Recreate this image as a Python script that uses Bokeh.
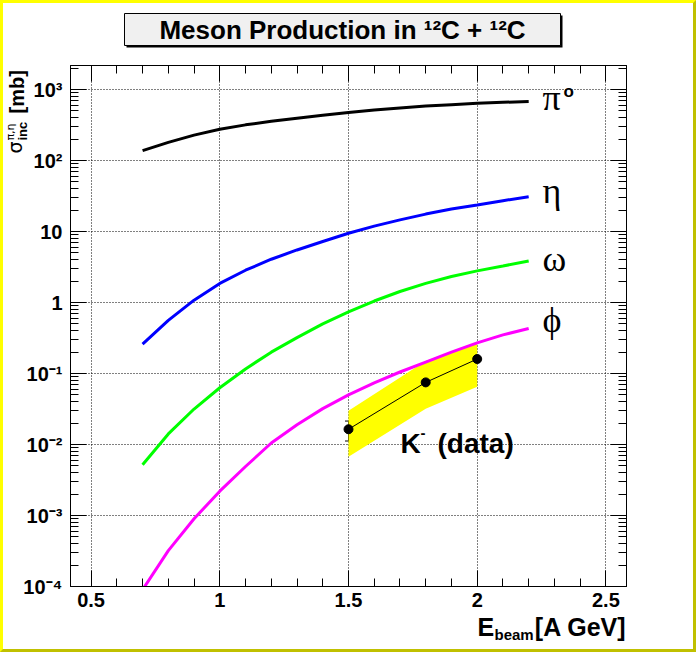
from math import log10, pi
from bokeh.plotting import figure
from bokeh.models import (Range1d, FixedTicker, LinearAxis, LogAxis, Label,
                          ColumnDataSource, Whisker, TeeHead, CustomLabelingPolicy)
from bokeh.embed import file_html
from bokeh.resources import INLINE

# ---------------- data ----------------
energy = [0.7, 0.8, 0.9, 1.0, 1.1, 1.2, 1.3, 1.4, 1.5, 1.6, 1.7, 1.8, 1.9, 2.0, 2.1, 2.2]
sigma_pi0 = [138, 180, 228, 275, 318, 357, 395, 435, 475, 515, 550, 585, 612, 640, 660, 678]
sigma_eta = [0.26, 0.56, 1.08, 1.86, 2.85, 4.07, 5.5, 7.24, 9.44, 11.9, 14.6, 17.6, 20.7, 23.7, 27.2, 30.9]
sigma_omega = [0.0052, 0.0141, 0.0316, 0.063, 0.116, 0.20, 0.32, 0.50, 0.74, 1.05, 1.43, 1.86, 2.32, 2.79, 3.27, 3.85]
sigma_phi = [9e-5, 3.2e-4, 9e-4, 2.2e-3, 4.9e-3, 0.0105, 0.019, 0.032, 0.050, 0.074, 0.105, 0.145, 0.20, 0.27, 0.35, 0.43]

k_energy = [1.5, 1.8, 2.0]
k_sigma = [0.0164, 0.075, 0.16]
k_err_low = [0.0112, 0.071, 0.152]
k_err_high = [0.0214, 0.079, 0.168]
k_band_low = [0.0067, 0.032, 0.065]
k_band_high = [0.030, 0.150, 0.275]

x_major = [0.5, 1.0, 1.5, 2.0, 2.5]
x_tick_labels = ["0.5", "1", "1.5", "2", "2.5"]
y_major = [1e-4, 1e-3, 1e-2, 1e-1, 1, 10, 100, 1000]
y_tick_labels = ["10\u207b\u2074", "10\u207b\u00b3", "10\u207b\u00b2", "10\u207b\u00b9",
                 "1", "10", "10\u00b2", "10\u00b3"]

title_text = "Meson Production in \u00b9\u00b2C + \u00b9\u00b2C"

# ---------------- geometry (outer pixels, incl. 3px border) ----------------
X0, X1 = 0.42, 2.58
Y0, Y1 = 1e-4, 2180.0
B = 3
CW, CH = 690, 646              # canvas size inside the border
FW, FH = 556, 521
FRAME_L, FRAME_T = 70, 65      # frame position in outer pixels
ML = FRAME_L - B
MT = FRAME_T - B
MR = CW - ML - FW
MB = CH - MT - FH
MID = {"Liberation Sans": 0.347, "Liberation Serif": 0.338, "DejaVu Sans": 0.346}


def xd(px):
    return X0 + (px - FRAME_L) / FW * (X1 - X0)


def yd(py):
    l0, l1 = log10(Y0), log10(Y1)
    return 10 ** (l0 + (FRAME_T + FH - py) / FH * (l1 - l0))


# ---------------- main plot ----------------
p = figure(frame_width=FW, frame_height=FH,
           min_border_left=ML, min_border_right=MR,
           min_border_top=MT, min_border_bottom=MB,
           x_range=Range1d(X0, X1), y_range=Range1d(Y0, Y1),
           y_axis_type="log", output_backend="svg", toolbar_location=None)
p.background_fill_color = "white"
p.border_fill_color = "white"
p.outline_line_color = "black"
p.outline_line_width = 1
p.styles = {"border-style": "solid", "border-width": f"{B}px",
            "border-color": "#ffff00 #c0c000 #c0c000 #ffff00"}

x_minor = [round(0.4 + 0.1 * i, 1) for i in range(23)]
y_minor = [m * 10.0 ** e for e in range(-4, 4) for m in range(2, 10)]
xt = FixedTicker(ticks=x_major, minor_ticks=x_minor)
yt = FixedTicker(ticks=y_major, minor_ticks=y_minor)

no_labels = CustomLabelingPolicy(
    code="try { return new indices.constructor(indices.size, 0) } catch (e) { return indices }")


def style_axis(ax, labels=True):
    ax.major_tick_in = 16
    ax.major_tick_out = 0
    ax.minor_tick_in = 8
    ax.minor_tick_out = 0
    ax.major_tick_line_color = "black"
    ax.minor_tick_line_color = "black"
    ax.axis_line_color = "black"
    ax.major_label_text_font = "Liberation Sans"
    ax.major_label_text_font_style = "bold"
    ax.major_label_text_color = "black"
    ax.major_label_text_font_size = "20px"
    if not labels:
        ax.major_label_policy = no_labels
        ax.major_label_text_font_size = "2px"
        ax.major_label_standoff = 0


p.xaxis.ticker = xt
p.yaxis.ticker = yt
p.yaxis.major_label_overrides = dict(zip(y_major, y_tick_labels))
p.xaxis.major_label_overrides = dict(zip(x_major, x_tick_labels))
style_axis(p.xaxis[0])
style_axis(p.yaxis[0])
p.xaxis.major_label_standoff = 6
p.yaxis.major_label_standoff = 8

top = LinearAxis(ticker=xt)
style_axis(top, labels=False)
p.add_layout(top, "above")
right = LogAxis(ticker=yt)
style_axis(right, labels=False)
p.add_layout(right, "right")

for g, t in ((p.xgrid, xt), (p.ygrid, yt)):
    g.ticker = t
    g.grid_line_color = "black"
    g.grid_line_dash = "1 2"
    g.grid_line_width = 1

p.varea(x=k_energy, y1=k_band_low, y2=k_band_high, fill_color="#ffff00")

p.line(energy, sigma_pi0, line_color="black", line_width=3)
p.line(energy, sigma_eta, line_color="#0000ff", line_width=3)
p.line(energy, sigma_omega, line_color="#00ff00", line_width=3)
p.line(energy, sigma_phi, line_color="#ff00ff", line_width=3)

ksrc = ColumnDataSource(dict(x=k_energy, y=k_sigma, lo=k_err_low, hi=k_err_high))
p.line("x", "y", source=ksrc, line_color="black", line_width=1)
p.add_layout(Whisker(source=ksrc, base="x", upper="hi", lower="lo", line_color="black",
                     upper_head=TeeHead(size=7, line_color="black"),
                     lower_head=TeeHead(size=7, line_color="black")))
p.scatter("x", "y", source=ksrc, size=9, color="black")


def lab(fig, px, py, text, size, font="Liberation Sans", style="bold", align="left",
        rotated=False, data=False, **kw):
    """Place a text whose alphabetic baseline passes through (px, py) in outer pixels.
    The anchor is moved to the text middle, which renders reliably."""
    shift = MID[font] * size
    if rotated:
        px, angle = px - shift, pi / 2
    else:
        py, angle = py - shift, 0.0
    x, y = (xd(px), yd(py)) if data else (px, py)
    fig.add_layout(Label(x=x, y=y, text=text, text_font=font, text_font_style=style,
                         text_font_size=f"{size}px", text_align=align,
                         text_baseline="middle", text_color="black", angle=angle, **kw))


serif = dict(font="Liberation Serif", style="normal", data=True)
lab(p, 542, 110, "\u03c0", 36, **serif)
lab(p, 563, 97, "o", 17, data=True)
lab(p, 542, 203, "\u03b7", 36, **serif)
lab(p, 542, 271, "\u03c9", 36, **serif)
lab(p, 542, 332, "\u03d5", 36, **serif)

lab(p, 400, 453, "K", 28, data=True)
lab(p, 420, 438, "-", 15, data=True)
lab(p, 437, 453, "(data)", 28, data=True)

# ---------------- transparent overlay for texts outside the frame ----------------
# its data coordinates are the outer pixel coordinates of the picture
ov = figure(width=CW, height=CH, x_range=Range1d(B, B + CW), y_range=Range1d(B + CH, B),
            x_axis_location=None, y_axis_location=None, min_border=0,
            output_backend="svg", toolbar_location=None)
ov.outline_line_color = None
ov.background_fill_color = None
ov.border_fill_color = None
ov.grid.visible = False
ov.styles = {"border-style": "solid", "border-width": f"{B}px",
             "border-color": "transparent", "position": "absolute",
             "top": "0px", "left": "0px"}

# title box with shadow
TB_L, TB_R, TB_T, TB_B = 124, 560, 13, 45
ov.quad(left=TB_L + 2, right=TB_R + 2, top=TB_T + 2, bottom=TB_B + 2,
        fill_color="#000000", line_color=None)
ov.quad(left=TB_L, right=TB_R, top=TB_T, bottom=TB_B,
        fill_color="#f0f0f0", line_color="black", line_width=1)
lab(ov, (TB_L + TB_R) / 2, 39, title_text, 26, align="center")

# y-axis title (rotated, reading upwards)
lab(ov, 21, 153, "\u03c3", 19, font="DejaVu Sans", style="normal", rotated=True)
lab(ov, 27, 140, "inc", 13, rotated=True)
lab(ov, 14, 140, "\u03c0,\u03b7", 11, font="DejaVu Sans", style="normal", rotated=True)
lab(ov, 23, 113, "[mb]", 20, rotated=True)

# x-axis title
lab(ov, 477, 635, "E", 25)
lab(ov, 494, 639, "beam", 15)
lab(ov, 626, 635, "[A GeV]", 25, align="right")

open("out.html", "w").write(file_html([p, ov], INLINE))
